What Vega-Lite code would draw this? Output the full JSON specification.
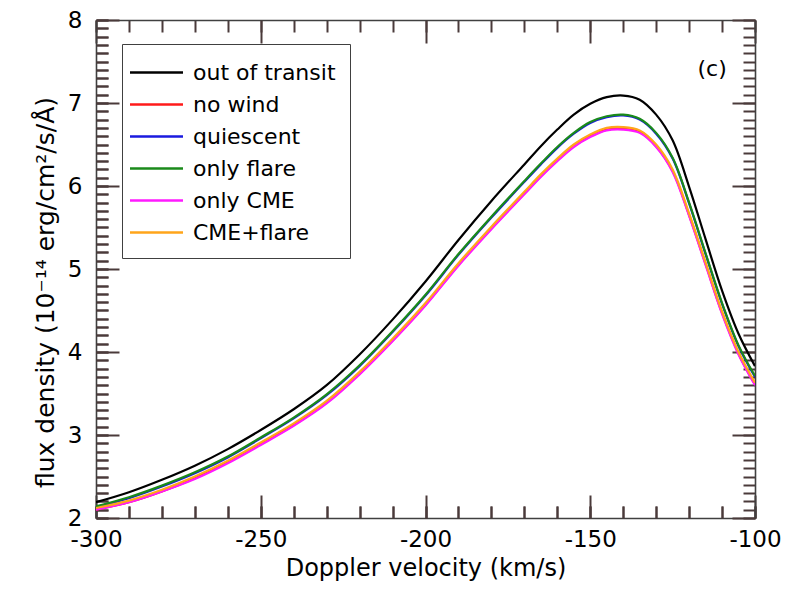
{
  "$schema": "https://vega.github.io/schema/vega-lite/v6.json",
  "width": 659,
  "height": 498,
  "autosize": "none",
  "padding": {"left": 96, "top": 20, "right": 45, "bottom": 71},
  "background": "white",
  "config": {
    "view": {"stroke": null},
    "font": "DejaVu Sans",
    "axis": {"grid": false, "domainColor": "#404040", "domainWidth": 1.6, "labelColor": "black", "titleColor": "black", "labelFont": "DejaVu Sans", "titleFont": "DejaVu Sans", "titleFontWeight": "normal"}
  },
  "datasets": {
    "curves": [
      {"v":-300,"s":"out of transit","f":2.19},{"v":-290,"s":"out of transit","f":2.31},{"v":-280,"s":"out of transit","f":2.46},{"v":-270,"s":"out of transit","f":2.63},{"v":-260,"s":"out of transit","f":2.83},{"v":-250,"s":"out of transit","f":3.06},{"v":-240,"s":"out of transit","f":3.31},{"v":-230,"s":"out of transit","f":3.60},{"v":-220,"s":"out of transit","f":3.97},{"v":-210,"s":"out of transit","f":4.39},{"v":-200,"s":"out of transit","f":4.85},{"v":-190,"s":"out of transit","f":5.35},{"v":-180,"s":"out of transit","f":5.82},{"v":-170,"s":"out of transit","f":6.26},{"v":-165,"s":"out of transit","f":6.48},{"v":-160,"s":"out of transit","f":6.68},{"v":-155,"s":"out of transit","f":6.86},{"v":-150,"s":"out of transit","f":6.99},{"v":-145,"s":"out of transit","f":7.07},{"v":-140,"s":"out of transit","f":7.09},{"v":-135,"s":"out of transit","f":7.04},{"v":-130,"s":"out of transit","f":6.86},{"v":-125,"s":"out of transit","f":6.55},{"v":-120,"s":"out of transit","f":5.99},{"v":-115,"s":"out of transit","f":5.36},{"v":-110,"s":"out of transit","f":4.74},{"v":-105,"s":"out of transit","f":4.22},{"v":-100,"s":"out of transit","f":3.83},

      {"v":-300,"s":"no wind","f":2.10},{"v":-290,"s":"no wind","f":2.19},{"v":-280,"s":"no wind","f":2.32},{"v":-270,"s":"no wind","f":2.48},{"v":-260,"s":"no wind","f":2.67},{"v":-250,"s":"no wind","f":2.89},{"v":-240,"s":"no wind","f":3.12},{"v":-230,"s":"no wind","f":3.39},{"v":-220,"s":"no wind","f":3.74},{"v":-210,"s":"no wind","f":4.14},{"v":-200,"s":"no wind","f":4.57},{"v":-190,"s":"no wind","f":5.05},{"v":-180,"s":"no wind","f":5.49},{"v":-170,"s":"no wind","f":5.91},{"v":-165,"s":"no wind","f":6.12},{"v":-160,"s":"no wind","f":6.31},{"v":-155,"s":"no wind","f":6.48},{"v":-150,"s":"no wind","f":6.60},{"v":-145,"s":"no wind","f":6.68},{"v":-140,"s":"no wind","f":6.69},{"v":-135,"s":"no wind","f":6.65},{"v":-130,"s":"no wind","f":6.48},{"v":-125,"s":"no wind","f":6.18},{"v":-120,"s":"no wind","f":5.65},{"v":-115,"s":"no wind","f":5.06},{"v":-110,"s":"no wind","f":4.47},{"v":-105,"s":"no wind","f":3.98},{"v":-100,"s":"no wind","f":3.61},

      {"v":-300,"s":"quiescent","f":2.13},{"v":-290,"s":"quiescent","f":2.24},{"v":-280,"s":"quiescent","f":2.38},{"v":-270,"s":"quiescent","f":2.54},{"v":-260,"s":"quiescent","f":2.73},{"v":-250,"s":"quiescent","f":2.96},{"v":-240,"s":"quiescent","f":3.20},{"v":-230,"s":"quiescent","f":3.48},{"v":-220,"s":"quiescent","f":3.83},{"v":-210,"s":"quiescent","f":4.24},{"v":-200,"s":"quiescent","f":4.68},{"v":-190,"s":"quiescent","f":5.17},{"v":-180,"s":"quiescent","f":5.62},{"v":-170,"s":"quiescent","f":6.05},{"v":-165,"s":"quiescent","f":6.26},{"v":-160,"s":"quiescent","f":6.46},{"v":-155,"s":"quiescent","f":6.63},{"v":-150,"s":"quiescent","f":6.76},{"v":-145,"s":"quiescent","f":6.83},{"v":-140,"s":"quiescent","f":6.85},{"v":-135,"s":"quiescent","f":6.80},{"v":-130,"s":"quiescent","f":6.63},{"v":-125,"s":"quiescent","f":6.33},{"v":-120,"s":"quiescent","f":5.79},{"v":-115,"s":"quiescent","f":5.18},{"v":-110,"s":"quiescent","f":4.58},{"v":-105,"s":"quiescent","f":4.07},{"v":-100,"s":"quiescent","f":3.70},

      {"v":-300,"s":"only flare","f":2.14},{"v":-290,"s":"only flare","f":2.25},{"v":-280,"s":"only flare","f":2.39},{"v":-270,"s":"only flare","f":2.55},{"v":-260,"s":"only flare","f":2.74},{"v":-250,"s":"only flare","f":2.97},{"v":-240,"s":"only flare","f":3.21},{"v":-230,"s":"only flare","f":3.49},{"v":-220,"s":"only flare","f":3.84},{"v":-210,"s":"only flare","f":4.25},{"v":-200,"s":"only flare","f":4.69},{"v":-190,"s":"only flare","f":5.18},{"v":-180,"s":"only flare","f":5.63},{"v":-170,"s":"only flare","f":6.06},{"v":-165,"s":"only flare","f":6.27},{"v":-160,"s":"only flare","f":6.47},{"v":-155,"s":"only flare","f":6.64},{"v":-150,"s":"only flare","f":6.77},{"v":-145,"s":"only flare","f":6.84},{"v":-140,"s":"only flare","f":6.86},{"v":-135,"s":"only flare","f":6.81},{"v":-130,"s":"only flare","f":6.64},{"v":-125,"s":"only flare","f":6.34},{"v":-120,"s":"only flare","f":5.80},{"v":-115,"s":"only flare","f":5.19},{"v":-110,"s":"only flare","f":4.59},{"v":-105,"s":"only flare","f":4.08},{"v":-100,"s":"only flare","f":3.71},

      {"v":-300,"s":"only CME","f":2.10},{"v":-290,"s":"only CME","f":2.19},{"v":-280,"s":"only CME","f":2.32},{"v":-270,"s":"only CME","f":2.47},{"v":-260,"s":"only CME","f":2.66},{"v":-250,"s":"only CME","f":2.88},{"v":-240,"s":"only CME","f":3.11},{"v":-230,"s":"only CME","f":3.38},{"v":-220,"s":"only CME","f":3.73},{"v":-210,"s":"only CME","f":4.13},{"v":-200,"s":"only CME","f":4.56},{"v":-190,"s":"only CME","f":5.04},{"v":-180,"s":"only CME","f":5.48},{"v":-170,"s":"only CME","f":5.90},{"v":-165,"s":"only CME","f":6.11},{"v":-160,"s":"only CME","f":6.30},{"v":-155,"s":"only CME","f":6.47},{"v":-150,"s":"only CME","f":6.59},{"v":-145,"s":"only CME","f":6.67},{"v":-140,"s":"only CME","f":6.68},{"v":-135,"s":"only CME","f":6.64},{"v":-130,"s":"only CME","f":6.47},{"v":-125,"s":"only CME","f":6.17},{"v":-120,"s":"only CME","f":5.64},{"v":-115,"s":"only CME","f":5.05},{"v":-110,"s":"only CME","f":4.46},{"v":-105,"s":"only CME","f":3.97},{"v":-100,"s":"only CME","f":3.60},

      {"v":-300,"s":"CME+flare","f":2.12},{"v":-290,"s":"CME+flare","f":2.21},{"v":-280,"s":"CME+flare","f":2.34},{"v":-270,"s":"CME+flare","f":2.50},{"v":-260,"s":"CME+flare","f":2.69},{"v":-250,"s":"CME+flare","f":2.91},{"v":-240,"s":"CME+flare","f":3.14},{"v":-230,"s":"CME+flare","f":3.41},{"v":-220,"s":"CME+flare","f":3.76},{"v":-210,"s":"CME+flare","f":4.16},{"v":-200,"s":"CME+flare","f":4.59},{"v":-190,"s":"CME+flare","f":5.07},{"v":-180,"s":"CME+flare","f":5.51},{"v":-170,"s":"CME+flare","f":5.93},{"v":-165,"s":"CME+flare","f":6.14},{"v":-160,"s":"CME+flare","f":6.33},{"v":-155,"s":"CME+flare","f":6.50},{"v":-150,"s":"CME+flare","f":6.62},{"v":-145,"s":"CME+flare","f":6.70},{"v":-140,"s":"CME+flare","f":6.71},{"v":-135,"s":"CME+flare","f":6.67},{"v":-130,"s":"CME+flare","f":6.50},{"v":-125,"s":"CME+flare","f":6.20},{"v":-120,"s":"CME+flare","f":5.67},{"v":-115,"s":"CME+flare","f":5.08},{"v":-110,"s":"CME+flare","f":4.49},{"v":-105,"s":"CME+flare","f":4.00},{"v":-100,"s":"CME+flare","f":3.63}
    ],
    "panel": [{"v": -113, "f": 7.41, "t": "(c)"}]
  },
  "resolve": {"axis": {"x": "independent", "y": "independent"}},
  "layer": [
    {
      "data": {"name": "curves"},
      "mark": {"type": "line", "interpolate": "catmull-rom", "strokeWidth": 2.2, "clip": true},
      "encoding": {
        "x": {"field": "v", "type": "quantitative",
          "scale": {"domain": [-300, -100], "nice": false, "zero": false},
          "axis": {"orient": "bottom", "title": "Doppler velocity (km/s)", "titleFontSize": 24, "titlePadding": 5,
            "values": [-300,-290,-280,-270,-260,-250,-240,-230,-220,-210,-200,-190,-180,-170,-160,-150,-140,-130,-120,-110,-100],
            "labelExpr": "datum.value % 50 === 0 ? toString(datum.value) : ''",
            "labelOverlap": false, "labelFontSize": 23, "labelPadding": 22, "labelFlush": false,
            "ticks": true, "tickSize": -12, "tickColor": "#4a3a3a", "tickWidth": 2}},
        "y": {"field": "f", "type": "quantitative",
          "scale": {"domain": [2, 8], "nice": false, "zero": false},
          "axis": {"orient": "left", "title": "flux density (10⁻¹⁴ erg/cm²/s/Å)", "titleFontSize": 25, "titlePadding": 9, "titleY": 272,
            "values": [2,2.1,2.2,2.3,2.4,2.5,2.6,2.7,2.8,2.9,3,3.1,3.2,3.3,3.4,3.5,3.6,3.7,3.8,3.9,4,4.1,4.2,4.3,4.4,4.5,4.6,4.7,4.8,4.9,5,5.1,5.2,5.3,5.4,5.5,5.6,5.7,5.8,5.9,6,6.1,6.2,6.3,6.4,6.5,6.6,6.7,6.8,6.9,7,7.1,7.2,7.3,7.4,7.5,7.6,7.7,7.8,7.9,8],
            "labelExpr": "abs(datum.value - round(datum.value)) < 0.001 ? toString(round(datum.value)) : ''",
            "labelOverlap": false, "labelFontSize": 23, "labelPadding": 26, "labelFlush": false,
            "ticks": true, "tickSize": -12, "tickColor": "#4a3a3a", "tickWidth": 2}},
        "color": {"field": "s", "type": "nominal",
          "scale": {"domain": ["out of transit", "no wind", "quiescent", "only flare", "only CME", "CME+flare"],
                    "range": ["#000000", "#ff1a1a", "#1a1adf", "#1a8a1a", "#ff1aff", "#ffa51a"]},
          "legend": {"title": null, "orient": "none", "legendX": 26, "legendY": 24,
            "strokeColor": "#404040", "fillColor": "white", "padding": 14,
            "symbolType": "M-2,0H2", "symbolSize": 702, "symbolStrokeWidth": 2.5, "symbolOffset": 6,
            "labelFontSize": 22, "labelFont": "DejaVu Sans", "labelColor": "black", "labelOffset": 22,
            "rowPadding": 6, "labelLimit": 300}}
      }
    },
    {
      "data": {"name": "panel"},
      "mark": {"type": "point", "opacity": 0},
      "encoding": {
        "x": {"field": "v", "type": "quantitative",
          "axis": {"orient": "bottom", "title": null, "labels": false, "domain": false,
            "values": [-300,-250,-200,-150,-100], "ticks": true, "tickSize": -23, "tickColor": "#4a3a3a", "tickWidth": 2}},
        "y": {"field": "f", "type": "quantitative",
          "axis": {"orient": "left", "title": null, "labels": false, "domain": false,
            "values": [2,3,4,5,6,7,8], "ticks": true, "tickSize": -23, "tickColor": "#4a3a3a", "tickWidth": 2}}
      }
    },
    {
      "data": {"name": "panel"},
      "mark": {"type": "text", "fontSize": 22, "font": "DejaVu Sans", "align": "center", "baseline": "middle", "color": "black"},
      "encoding": {
        "text": {"field": "t"},
        "x": {"field": "v", "type": "quantitative",
          "axis": {"orient": "top", "title": null, "labels": false, "domain": true,
            "values": [-300,-290,-280,-270,-260,-250,-240,-230,-220,-210,-200,-190,-180,-170,-160,-150,-140,-130,-120,-110,-100],
            "ticks": true, "tickSize": -12, "tickColor": "#4a3a3a", "tickWidth": 2}},
        "y": {"field": "f", "type": "quantitative",
          "axis": {"orient": "right", "title": null, "labels": false, "domain": true,
            "values": [2,2.1,2.2,2.3,2.4,2.5,2.6,2.7,2.8,2.9,3,3.1,3.2,3.3,3.4,3.5,3.6,3.7,3.8,3.9,4,4.1,4.2,4.3,4.4,4.5,4.6,4.7,4.8,4.9,5,5.1,5.2,5.3,5.4,5.5,5.6,5.7,5.8,5.9,6,6.1,6.2,6.3,6.4,6.5,6.6,6.7,6.8,6.9,7,7.1,7.2,7.3,7.4,7.5,7.6,7.7,7.8,7.9,8],
            "ticks": true, "tickSize": -12, "tickColor": "#4a3a3a", "tickWidth": 2}}
      }
    },
    {
      "data": {"name": "panel"},
      "mark": {"type": "point", "opacity": 0},
      "encoding": {
        "x": {"field": "v", "type": "quantitative",
          "axis": {"orient": "top", "title": null, "labels": false, "domain": false,
            "values": [-300,-250,-200,-150,-100], "ticks": true, "tickSize": -23, "tickColor": "#4a3a3a", "tickWidth": 2}},
        "y": {"field": "f", "type": "quantitative",
          "axis": {"orient": "right", "title": null, "labels": false, "domain": false,
            "values": [2,3,4,5,6,7,8], "ticks": true, "tickSize": -23, "tickColor": "#4a3a3a", "tickWidth": 2}}
      }
    },
    {
      "data": {"name": "panel"},
      "mark": {"type": "point", "opacity": 0},
      "encoding": {
        "x": {"field": "v", "type": "quantitative",
          "axis": {"orient": "bottom", "title": null, "labels": false, "domain": false,
            "values": [-300,-290,-280,-270,-260,-250,-240,-230,-220,-210,-200,-190,-180,-170,-160,-150,-140,-130,-120,-110,-100],
            "ticks": true, "tickSize": -12, "tickColor": "#4a3a3a", "tickWidth": 2}},
        "y": {"field": "f", "type": "quantitative",
          "axis": {"orient": "left", "title": null, "labels": false, "domain": false,
            "values": [2,2.1,2.2,2.3,2.4,2.5,2.6,2.7,2.8,2.9,3,3.1,3.2,3.3,3.4,3.5,3.6,3.7,3.8,3.9,4,4.1,4.2,4.3,4.4,4.5,4.6,4.7,4.8,4.9,5,5.1,5.2,5.3,5.4,5.5,5.6,5.7,5.8,5.9,6,6.1,6.2,6.3,6.4,6.5,6.6,6.7,6.8,6.9,7,7.1,7.2,7.3,7.4,7.5,7.6,7.7,7.8,7.9,8],
            "ticks": true, "tickSize": -12, "tickColor": "#4a3a3a", "tickWidth": 2}}
      }
    }
  ]
}
